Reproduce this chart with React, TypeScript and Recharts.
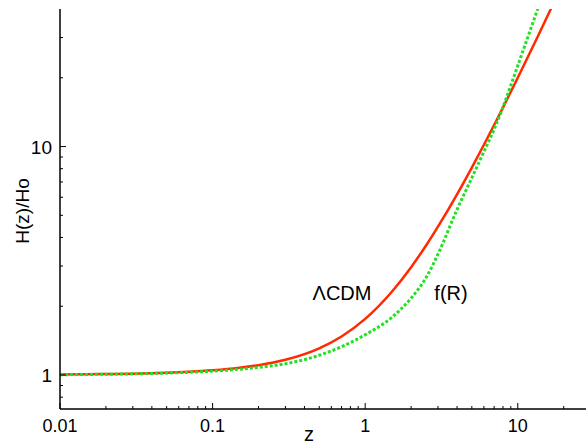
import React from 'react';
import { LineChart, Line, XAxis, YAxis } from 'recharts';

const zValues = [0.01, 0.02, 0.03, 0.05, 0.07, 0.1, 0.15, 0.2, 0.3, 0.5, 0.7, 1, 1.5, 2, 2.5, 3, 4, 5, 6, 7, 8, 10, 13.5, 15, 20];
const lcdmValues = [1.0045, 1.0091, 1.0138, 1.0234, 1.0332, 1.0485, 1.0753, 1.1038, 1.1658, 1.3086, 1.4744, 1.7607, 2.321, 2.966, 3.68, 4.461, 6.18, 8.093, 10.18, 12.42, 14.81, 20.0, 30.25, 35.06, 52.7];
const fRValues = [1.003, 1.008, 1.012, 1.02, 1.028, 1.04, 1.06, 1.08, 1.12, 1.22, 1.33, 1.5, 1.79, 2.17, 2.66, 3.38, 5.3, 7.3, 9.5, 11.9, 14.9, 22.6, 40, 49, 85];

const xTicks = [0.01, 0.02, 0.03, 0.04, 0.05, 0.06, 0.07, 0.08, 0.09, 0.1, 0.2, 0.3, 0.4, 0.5, 0.6, 0.7, 0.8, 0.9, 1, 2, 3, 4, 5, 6, 7, 8, 9, 10, 20];
const yTicks = [0.8, 0.9, 1, 2, 3, 4, 5, 6, 7, 8, 9, 10, 20, 30];
const majorLabels: Record<string, string> = { '0.01': '0.01', '0.1': '0.1', '1': '1', '10': '10' };

const data = zValues.map((z, i) => ({ z, lcdm: lcdmValues[i], fR: fRValues[i] }));

const FONT = '"Liberation Sans", Arial, Helvetica, sans-serif';

const isMajor = (v: number) => Math.abs(Math.log10(v) - Math.round(Math.log10(v))) < 1e-6;

const BottomTick = (props: any) => {
  const { x, y, payload } = props;
  const v = payload.value;
  const major = isMajor(v);
  const len = major ? 6 : 3;
  return (
    <g>
      <line x1={x} y1={y} x2={x} y2={y - len} stroke="#000" strokeWidth={1} />
      {major && (
        <text x={x} y={y + 23} textAnchor="middle" fontSize={18} fontFamily={FONT} fill="#000">
          {majorLabels[String(v)]}
        </text>
      )}
    </g>
  );
};

const TopTick = (props: any) => {
  const { x, y, payload } = props;
  const v = payload.value;
  const major = isMajor(v);
  const len = major ? 6 : 3;
  return <line x1={x} y1={y} x2={x} y2={y + len} stroke="#000" strokeWidth={1} />;
};

const LeftTick = (props: any) => {
  const { x, y, payload } = props;
  const v = payload.value;
  const major = isMajor(v);
  const len = major ? 6 : 3;
  return (
    <g>
      <line x1={x} y1={y} x2={x + len} y2={y} stroke="#000" strokeWidth={1} />
      {major && (
        <text x={x - 8} y={y + 7} textAnchor="end" fontSize={19} fontFamily={FONT} fill="#000">
          {majorLabels[String(v)]}
        </text>
      )}
    </g>
  );
};

export default function App() {
  return (
    <div style={{ position: 'absolute', left: 0, top: 0, width: 586, height: 444, overflow: 'hidden', background: '#fff' }}>
      <LineChart width={586} height={444} data={data} margin={{ top: 9, right: 0, left: 0, bottom: 0 }}>
        <XAxis
          dataKey="z"
          type="number"
          scale="log"
          domain={[0.01, 28]}
          allowDataOverflow
          ticks={xTicks}
          interval={0}
          tick={BottomTick}
          tickSize={0}
          tickMargin={0}
          tickLine={false}
          height={35}
          axisLine={{ stroke: '#000', strokeWidth: 1.5 }}
        />
        <XAxis
          xAxisId="top"
          orientation="top"
          dataKey="z"
          type="number"
          scale="log"
          domain={[0.01, 28]}
          allowDataOverflow
          ticks={xTicks}
          interval={0}
          tick={TopTick}
          tickSize={0}
          tickMargin={0}
          tickLine={false}
          height={0}
          axisLine={{ stroke: '#000', strokeWidth: 1.5 }}
        />
        <YAxis
          type="number"
          scale="log"
          domain={[0.71, 40]}
          allowDataOverflow
          ticks={yTicks}
          interval={0}
          tick={LeftTick}
          tickSize={0}
          tickMargin={0}
          tickLine={false}
          width={60}
          axisLine={{ stroke: '#000', strokeWidth: 1.5 }}
        />
        <Line
          dataKey="lcdm"
          type="monotone"
          stroke="#ff2a00"
          strokeWidth={2.5}
          dot={false}
          isAnimationActive={false}
        />
        <Line
          dataKey="fR"
          type="monotone"
          stroke="#22e022"
          strokeWidth={3}
          strokeDasharray="3 2"
          dot={false}
          isAnimationActive={false}
        />
      </LineChart>
      <svg width={586} height={444} style={{ position: 'absolute', left: 0, top: 0, pointerEvents: 'none' }}>
        <text x={342} y={300} textAnchor="middle" fontSize={20} fontFamily={FONT} fill="#000">ΛCDM</text>
        <text x={451} y={300} textAnchor="middle" fontSize={20} fontFamily={FONT} fill="#000">f(R)</text>
        <text
          x={22}
          y={211}
          textAnchor="middle"
          dominantBaseline="central"
          fontSize={19}
          fontFamily={FONT}
          fill="#000"
          transform="rotate(-90 22 211)"
        >
          H(z)/Ho
        </text>
        <text x={309} y={441} textAnchor="middle" fontSize={20} fontFamily={FONT} fill="#000">z</text>
      </svg>
    </div>
  );
}
